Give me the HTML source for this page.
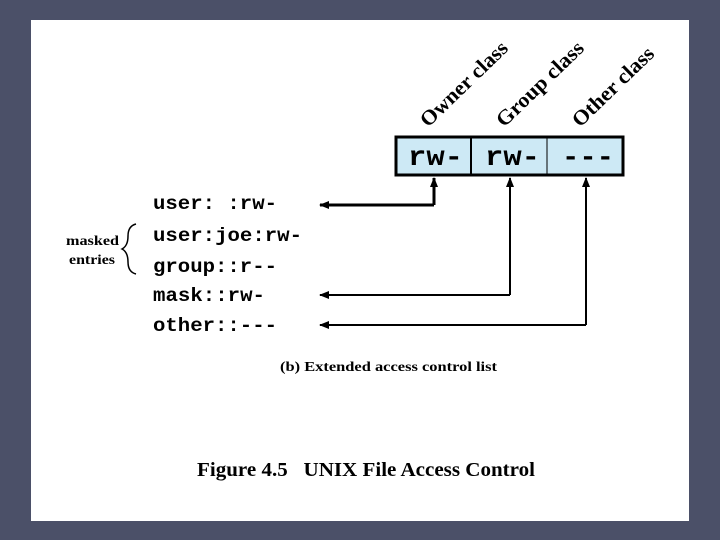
<!DOCTYPE html>
<html><head><style>
body{margin:0;width:720px;height:540px;background:#4b5068;position:relative;overflow:hidden}
#p{position:absolute;left:31px;top:20px;width:658px;height:501px;background:#fff}
</style></head><body>
<div id="p"></div>
<svg width="720" height="540" style="position:absolute;left:0;top:0">
<defs><marker id="a" markerWidth="10" markerHeight="8" refX="9" refY="4" orient="auto" markerUnits="userSpaceOnUse"><path d="M0,0L10,4L0,8z" fill="#000"/></marker></defs>
<g font-family="Liberation Serif,serif" font-weight="bold" font-size="21" fill="#000">
<text transform="translate(428,128) rotate(-44)" textLength="113" lengthAdjust="spacingAndGlyphs">Owner class</text>
<text transform="translate(504,128) rotate(-44)" textLength="113" lengthAdjust="spacingAndGlyphs">Group class</text>
<text transform="translate(580,128) rotate(-44)" textLength="105" lengthAdjust="spacingAndGlyphs">Other class</text>
</g>
<rect x="396" y="137" width="227" height="38" fill="#cde9f5" stroke="#000" stroke-width="3"/>
<line x1="471" y1="137" x2="471" y2="175" stroke="#000" stroke-width="2"/>
<line x1="547" y1="137" x2="547" y2="175" stroke="#000" stroke-width="1"/>
<g font-family="Liberation Mono,monospace" font-weight="bold" font-size="28" fill="#000">
<text x="408" y="165" textLength="55" lengthAdjust="spacingAndGlyphs">rw-</text>
<text x="485" y="165" textLength="55" lengthAdjust="spacingAndGlyphs">rw-</text>
<text x="562" y="165" textLength="52" lengthAdjust="spacingAndGlyphs">---</text>
</g>
<g fill="none" stroke="#000">
<path d="M434,205V178" stroke-width="3" marker-end="url(#a)"/>
<path d="M434,205H320" stroke-width="3" marker-end="url(#a)"/>
<path d="M510,295V178" stroke-width="2" marker-end="url(#a)"/>
<path d="M510,295H320" stroke-width="2" marker-end="url(#a)"/>
<path d="M586,325V178" stroke-width="2" marker-end="url(#a)"/>
<path d="M586,325H320" stroke-width="2" marker-end="url(#a)"/>
<path d="M136,224 Q128,226 128,236 Q128,246 122,249 Q128,252 128,262 Q128,272 136,274" stroke-width="1.5"/>
</g>
<g font-family="Liberation Mono,monospace" font-weight="bold" font-size="19" fill="#000" lengthAdjust="spacingAndGlyphs">
<text x="153" y="209" textLength="124" lengthAdjust="spacingAndGlyphs">user: :rw-</text>
<text x="153" y="241" textLength="149" lengthAdjust="spacingAndGlyphs">user:joe:rw-</text>
<text x="153" y="272" textLength="124" lengthAdjust="spacingAndGlyphs">group::r--</text>
<text x="153" y="301" textLength="112" lengthAdjust="spacingAndGlyphs">mask::rw-</text>
<text x="153" y="331" textLength="124" lengthAdjust="spacingAndGlyphs">other::---</text>
</g>
<g font-family="Liberation Serif,serif" font-weight="bold" font-size="14" fill="#000">
<text x="66" y="245" textLength="53" lengthAdjust="spacingAndGlyphs">masked</text>
<text x="69" y="264" textLength="46" lengthAdjust="spacingAndGlyphs">entries</text>
<text x="280" y="371" textLength="217" lengthAdjust="spacingAndGlyphs">(b) Extended access control list</text>
<text x="197" y="476" font-size="20" textLength="338" lengthAdjust="spacingAndGlyphs" xml:space="preserve">Figure 4.5   UNIX File Access Control</text>
</g>
</svg>
</body></html>
